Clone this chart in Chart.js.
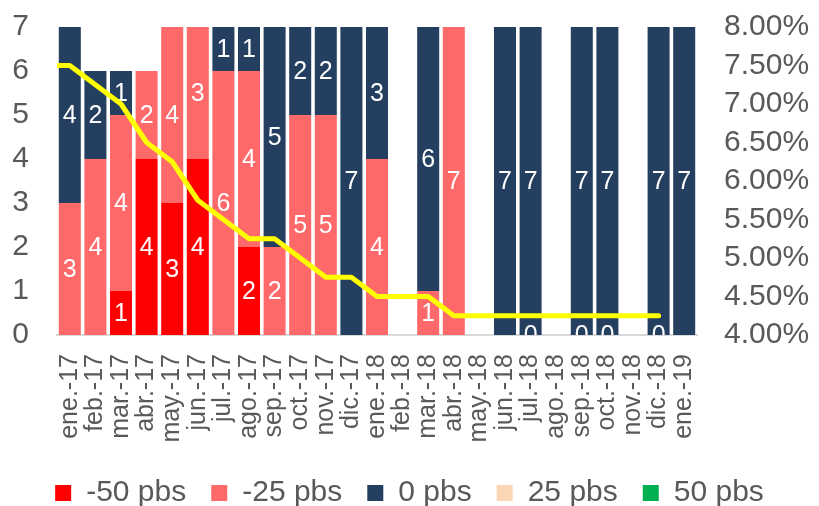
<!DOCTYPE html>
<html>
<head>
<meta charset="utf-8">
<script src="https://cdn.jsdelivr.net/npm/chart.js@4/dist/chart.umd.min.js"></script>
<style>
  html, body { margin: 0; padding: 0; background: #fff; }
  #wrap { width: 819px; height: 506px; }
</style>
</head>
<body>
<div id="wrap"><canvas id="chart" width="819" height="506"></canvas></div>
<script>
// months (Spanish abbreviations)
const months = ['ene.-17', 'feb.-17', 'mar.-17', 'abr.-17', 'may.-17', 'jun.-17', 'jul.-17', 'ago.-17',
  'sep.-17', 'oct.-17', 'nov.-17', 'dic.-17', 'ene.-18', 'feb.-18', 'mar.-18', 'abr.-18', 'may.-18',
  'jun.-18', 'jul.-18', 'ago.-18', 'sep.-18', 'oct.-18', 'nov.-18', 'dic.-18', 'ene.-19'];

// number of votes per decision
const cut50 = [null, null, 1, 4, 3, 4, null, 2, null, null, null, null, null, null, null, null, null,
  null, null, null, null, null, null, null, null];
const cut25 = [3, 4, 4, 2, 4, 3, 6, 4, 2, 5, 5, null, 4, null, 1, 7, null,
  null, 0, null, 0, 0, null, 0, null];
const hold = [4, 2, 1, null, null, null, 1, 1, 5, 2, 2, 7, 3, null, 6, null, null,
  7, 7, null, 7, 7, null, 7, 7];
const hike25 = months.map(() => null);
const hike50 = months.map(() => null);

// policy rate, % (right axis)
const rate = [7.5, 7.25, 7.0, 6.5, 6.25, 5.75, 5.5, 5.25, 5.25, 5.0, 4.75, 4.75, 4.5, 4.5, 4.5,
  4.25, 4.25, 4.25, 4.25, 4.25, 4.25, 4.25, 4.25, 4.25, null];

const leftTicks = [0, 1, 2, 3, 4, 5, 6, 7];
const rightTicks = [4, 4.5, 5, 5.5, 6, 6.5, 7, 7.5, 8];

const grey = '#595959';
const fontFam = '"Liberation Sans", Arial, sans-serif';

const toPoints = arr => arr.map((v, i) => ({ x: i, y: v }));

// the line starts at the left edge of the plot, then follows each month
const ratePoints = [{ x: -0.5, y: rate[0] }].concat(toPoints(rate).filter(p => p.y !== null));

const barLabels = {
  id: 'barLabels',
  afterDatasetDraw(chart, args) {
    const ds = chart.data.datasets[args.index];
    if (ds.type === 'line') return;
    const ctx = chart.ctx;
    const area = chart.chartArea;
    ctx.save();
    ctx.beginPath();
    ctx.rect(area.left, area.top, area.right - area.left, area.bottom - area.top);
    ctx.clip();
    ctx.fillStyle = '#fff';
    ctx.font = '25px ' + fontFam;
    ctx.textAlign = 'center';
    ctx.textBaseline = 'middle';
    args.meta.data.forEach((bar, i) => {
      const v = ds.data[i].y;
      if (v === null || v === undefined) return;
      ctx.fillText(String(v), bar.x, (bar.y + bar.base) / 2 + 1);
    });
    ctx.restore();
  }
};

// drop the label padding chart.js adds around the plot
const noPad = s => { s.paddingTop = 0; s.paddingBottom = 0; s.paddingLeft = 0; s.paddingRight = 0; };

const barCommon = { type: 'bar', stack: 'v', yAxisID: 'y', order: 1,
  barPercentage: 0.86, categoryPercentage: 1.0, borderWidth: 0 };

new Chart(document.getElementById('chart'), {
  data: {
    datasets: [
      { ...barCommon, label: '-50 pbs', data: toPoints(cut50), backgroundColor: '#ff0000' },
      { ...barCommon, label: '-25 pbs', data: toPoints(cut25), backgroundColor: '#ff6969' },
      { ...barCommon, label: '0 pbs', data: toPoints(hold), backgroundColor: '#243f60' },
      { ...barCommon, label: '25 pbs', data: toPoints(hike25), backgroundColor: '#fcd5b4' },
      { ...barCommon, label: '50 pbs', data: toPoints(hike50), backgroundColor: '#00b050' },
      {
        type: 'line', label: 'Tasa', data: ratePoints, yAxisID: 'y2', order: 0,
        borderColor: '#ffff00', borderWidth: 5, pointRadius: 0, tension: 0,
        borderCapStyle: 'round', borderJoinStyle: 'round'
      }
    ]
  },
  options: {
    responsive: false,
    animation: false,
    layout: { padding: { top: 27, left: 0, right: 0, bottom: -12 } },
    plugins: {
      tooltip: { enabled: false },
      legend: {
        position: 'bottom',
        labels: {
          filter: item => item.text !== 'Tasa',
          color: grey,
          font: { family: fontFam, size: 30 },
          boxWidth: 16,
          boxHeight: 16,
          padding: 25
        }
      }
    },
    scales: {
      x: {
        type: 'linear',
        stacked: true,
        offset: false,
        min: -0.5, max: months.length - 0.5,
        grid: { display: false, drawTicks: false },
        border: { display: true, color: '#d9d9d9', width: 2 },
        afterBuildTicks(s) { s.ticks = months.map((m, i) => ({ value: i })); },
        ticks: {
          color: grey, font: { family: fontFam, size: 25 },
          minRotation: 90, maxRotation: 90, padding: 19, autoSkip: false,
          callback: v => months[v]
        },
        afterFit(s) { s.height = 118; noPad(s); }
      },
      y: {
        position: 'left',
        stacked: true,
        min: leftTicks[0], max: leftTicks[leftTicks.length - 1],
        grid: { display: false, drawTicks: false },
        border: { display: false },
        afterBuildTicks(s) { s.ticks = leftTicks.map(v => ({ value: v })); },
        ticks: { color: grey, font: { family: fontFam, size: 30 }, padding: 28, autoSkip: false },
        afterFit(s) { s.width = 57; noPad(s); }
      },
      y2: {
        position: 'right',
        min: rightTicks[0], max: rightTicks[rightTicks.length - 1],
        grid: { display: false, drawTicks: false },
        border: { display: false },
        afterBuildTicks(s) { s.ticks = rightTicks.map(v => ({ value: v })); },
        ticks: {
          color: grey, font: { family: fontFam, size: 30 }, padding: 27, autoSkip: false,
          callback: v => v.toFixed(2) + '%'
        },
        afterFit(s) { s.width = 122; noPad(s); }
      }
    }
  },
  plugins: [barLabels]
});
</script>
</body>
</html>
